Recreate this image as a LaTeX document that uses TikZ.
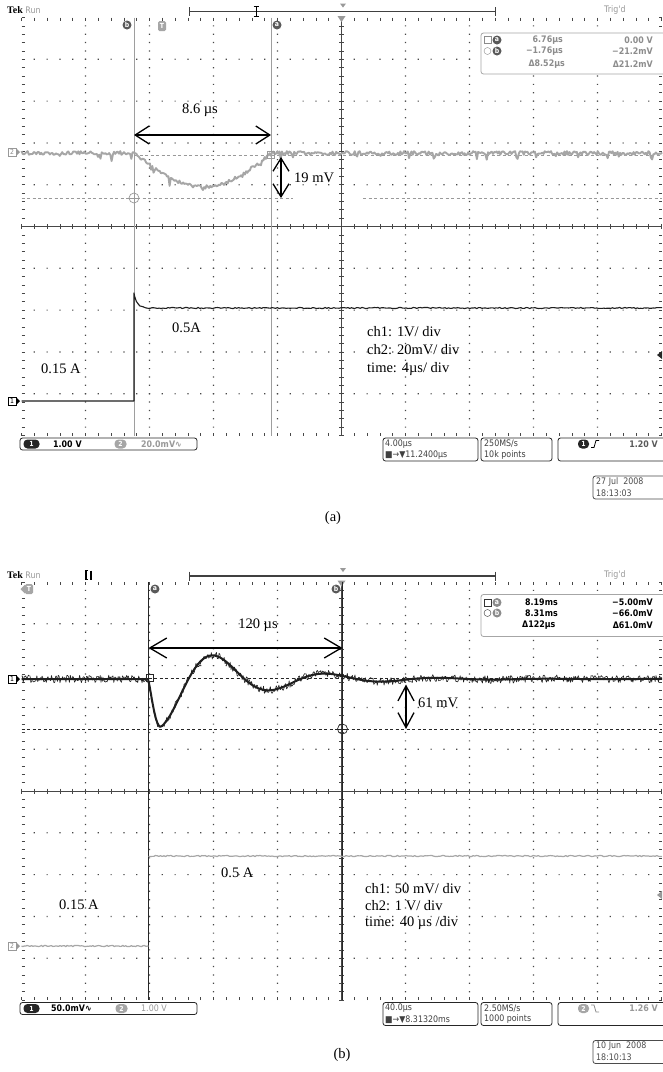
\documentclass[tikz,border=0pt]{standalone}
\usepackage{fontspec}
\setmainfont{Liberation Serif}
\newfontfamily\tekfont[FakeStretch=0.88]{DejaVu Sans}
\usetikzlibrary{arrows.meta,positioning}

\tikzset{
	griddot/.style={fill=black!72},
	gridtick/.style={draw=black!72, line width=0.6pt},
	cursgrey/.style={draw=black!38, line width=0.9pt},
	cursblack/.style={draw=black!85, line width=0.9pt},
	curslevel/.style={dash pattern=on 3pt off 2.5pt, line width=0.8pt},
	trgrey/.style={draw=black!35, line width=1.9pt, line join=round},
	trblack/.style={draw=black!88, line width=1.1pt, line join=round},
	dimarrow/.style={draw=black, line width=1.3pt, {Straight Barb[length=14pt,width=18pt]}-{Straight Barb[length=14pt,width=18pt]}},
	lbl/.style={font=\fontsize{14.5}{18}\selectfont, inner sep=0pt},
	ui/.style={font=\tekfont\fontsize{9}{11}\selectfont, inner sep=0pt},
	uib/.style={font=\tekfont\bfseries\fontsize{9}{11}\selectfont, inner sep=0pt},
	uibox/.style={draw=black!85, line width=0.8pt, rounded corners=2.5pt, fill=white},
	curslab/.style={circle, fill=black!65, text=white, inner sep=0pt, minimum size=9pt, font=\tekfont\bfseries\fontsize{7}{7}\selectfont},
	pill/.style={rounded corners=4pt, fill=black!85, text=white, inner sep=0pt, minimum width=16pt, minimum height=9pt, font=\tekfont\bfseries\fontsize{7}{7}\selectfont},
	chmark/.style={draw, inner sep=0.6pt, minimum size=8pt, font=\tekfont\fontsize{7}{7}\selectfont},
}

% graticule of one screen
\newcommand{\tekgrid}{%
	\fill[griddot] foreach \i in {1,2,3,4,6,7,8,9} {foreach \j in {1,...,49} {({21.5+64*\i-0.6},{17.5+8.36*\j-0.6}) rectangle ++(1.2,1.2)}};
	\fill[griddot] foreach \k in {1,2,3,4,6,7,8,9} {foreach \m in {1,...,49} {({21.5+12.8*\m-0.6},{17.5+41.8*\k-0.6}) rectangle ++(1.2,1.2)}};
	\draw[gridtick] foreach \j in {0,...,50} {(21.5,{17.5+8.36*\j}) -- ++(3,0) (339,{17.5+8.36*\j}) -- ++(5,0) (661.5,{17.5+8.36*\j}) -- ++(-3,0)};
	\draw[gridtick] foreach \m in {0,...,50} {({21.5+12.8*\m},17.5) -- ++(0,3) ({21.5+12.8*\m},224) -- ++(0,5) ({21.5+12.8*\m},435.5) -- ++(0,-3)};
	\draw[gridtick, line width=0.5pt] (21.5,226.5) -- (661.5,226.5) (341.5,17.5) -- (341.5,435.5);
}

% top line of one screen
\newcommand{\tektop}{%
	\node[font=\bfseries\fontsize{10}{10}\selectfont, inner sep=0pt, anchor=west] (tek) at (7,10.5) {Tek};
	\node[ui, text=black!40, anchor=west] (run) at ([xshift=2pt]tek.east) {Run};
	\node[ui, text=black!40, anchor=west] (trigd) at (604,10.5) {Trig'd};
	\draw[draw=black!75, line width=1.4pt] (189,11.5) -- (495,11.5);
	\draw[draw=black!75, line width=0.8pt] (189,7) -- (189,16) (495,7) -- (495,16);
	\fill[black!40] (340,3.5) -- (346,3.5) -- (343,7.5) -- cycle;
	\fill[black!40] (337.5,16) -- (345.5,16) -- (341.5,22) -- cycle;
}

\begin{document}
\begin{tikzpicture}[x=1pt, y=-1pt,
	declare function={
		dipa(\x)=(\x>134)*(\x<272)*34*sin(1.3043*(\x-134));
		osc(\x)=(\x>148.5)*(\x<=160.5)*48*sin(7.5*(\x-148.5))+(\x>160.5)*48*exp(-(\x-160.5)/76)*cos(3.2143*(\x-160.5));
	}]
	\pgfmathsetseed{1234}
	\useasboundingbox[fill=white] (0,0) rectangle (662,1072);

	% ---------- (a)
	\tekgrid
	\tektop
	\draw[line width=0.9pt] (256,6.5) -- (256,16.5) (253.5,6.5) -- (258.5,6.5) (253.5,16.5) -- (258.5,16.5);
	\draw[cursgrey] (134,17.5) -- (134,435.5) (271,17.5) -- (271,435.5);
	\node[curslab] (cbl) at (127,25) {b};
	\node[curslab] (cal) at (277,25) {a};
	\node[curslab, rectangle, rounded corners=1.5pt, fill=black!35, minimum width=8pt, minimum height=10pt] (trg) at (162,26) {T};

	% readout
	\draw[uibox, draw=black!35] (481,33) rectangle (672,74);
	\node[draw=black!45, minimum size=7pt, inner sep=0pt] (sqa) at (487.5,40) {};
	\node[curslab] (ra) at (497,40) {a};
	\node[uib, text=black!45, anchor=east] (ra1) at (563,40) {6.76µs};
	\node[uib, text=black!45, anchor=east] (ra2) at (653,40) {0.00 V};
	\node[circle, draw=black!45, minimum size=7pt, inner sep=0pt] (cia) at (487.5,51) {};
	\node[curslab] (rb) at (497,51) {b};
	\node[uib, text=black!45, anchor=east] (rb1) at (563,51) {−1.76µs};
	\node[uib, text=black!45, anchor=east] (rb2) at (653,51) {−21.2mV};
	\node[uib, text=black!45, anchor=east] (rd1) at (565,64) {Δ8.52µs};
	\node[uib, text=black!45, anchor=east] (rd2) at (653,64) {Δ21.2mV};

	% cursor levels
	\draw[curslevel, draw=black!40] (134,155) -- (662,155);
	\draw[curslevel, draw=black!40] (21.5,198) -- (293,198) (363,198) -- (662,198);

	% traces
	\draw[trgrey] plot[domain=21.5:662, samples=520] (\x,{153+dipa(\x)+1.9*rand+7*rnd*(rnd>0.9)});
	\draw[trblack] (21.5,401) -- (134,401) -- (134,293) -- plot[domain=134.5:662, samples=300] (\x,{308-15*exp(-min((\x-134)/3,30))+0.6*rand});
	\node[draw=black!40, line width=0.7pt, minimum size=7pt, inner sep=0pt] (sqma) at (271,155) {};
	\node[circle, draw=black!40, line width=0.7pt, minimum size=10pt, inner sep=0pt] (cimb) at (134,198) {};
	\draw[draw=black!40, line width=0.7pt] (cimb.north) -- (cimb.south) (cimb.west) -- (cimb.east);
	\node[chmark, draw=black!40, text=black!45] (m2) at (12,152) {2};
	\fill[black!40] (16,148) -- (20,152) -- (16,156) -- cycle;
	\node[chmark] (m1) at (12,401) {1};
	\fill[black] (16,397) -- (20,401) -- (16,405) -- cycle;
	\fill[black!85] (662,351) -- (657,355) -- (662,359) -- cycle;

	% dimensions
	\coordinate (dtl) at (134,135);
	\coordinate (dtr) at (271,135);
	\draw[dimarrow] (dtl) -- (dtr);
	\node[lbl] (dt) at (200,110) {8.6 µs};
	\coordinate (dvt) at (281,157);
	\coordinate (dvb) at (281,198);
	\draw[dimarrow, {Straight Barb[length=13pt,width=16pt]}-{Straight Barb[length=13pt,width=16pt]}] (dvt) -- (dvb);
	\node[lbl, anchor=west] (dv) at (294,178) {19 mV};
	\node[lbl, anchor=west] (ihi) at (172,328) {0.5A};
	\node[lbl, anchor=west] (ilo) at (41,369) {0.15 A};
	\node[lbl, anchor=west, align=left] (set) at (367,351) {ch1: 1V/ div\\ch2: 20mV/ div\\time: 4µs/ div};

	% status line
	\draw[uibox] (20,438) rectangle (197,450);
	\node[pill] (p1) at (31.5,444) {1};
	\node[uib, anchor=west] (v1) at (53,444) {1.00 V};
	\node[pill, fill=black!35, minimum width=12pt] (p2) at (120.5,444) {2};
	\node[uib, text=black!40, anchor=west] (v2) at (141,444) {20.0mV∿};
	\draw[uibox] (383,438) rectangle (478,461);
	\node[ui, text=black!75, anchor=west] (hs) at (385,444) {4.00µs};
	\node[ui, text=black!75, anchor=west] (hd) at (385,455) {■→▼11.2400µs};
	\draw[uibox] (481,438) rectangle (552,461);
	\node[ui, text=black!75, anchor=west] (sr) at (484,444) {250MS/s};
	\node[ui, text=black!75, anchor=west] (rl) at (484,455) {10k points};
	\draw[uibox] (558,438) rectangle (672,461);
	\node[pill, minimum width=11pt] (p3) at (583.5,444) {1};
	\draw[line width=0.8pt] (591,447.5) -- (594,447.5) -- (596,440.5) -- (599,440.5);
	\node[uib, text=black!65, anchor=east] (tl) at (658,444) {1.20 V};
	\draw[uibox, draw=black!70] (593,476) rectangle (672,499);
	\node[ui, text=black!70, anchor=west] (dat) at (596,482) {27 Jul\ \ 2008};
	\node[ui, text=black!70, anchor=west] (tim) at (596,493) {18:13:03};

	% ---------- (b)
	\begin{scope}[shift={(0,564.5)}]
	\tekgrid
	\tektop
	\draw[line width=1.2pt] (88,6) -- (86,6) -- (86,15) -- (88,15) (91,6) -- (91,15);
	\draw[cursblack] (148.5,17.5) -- (148.5,435.5) (342.5,17.5) -- (342.5,435.5);
	\node[curslab] (calb) at (155,24.5) {a};
	\node[curslab] (cblb) at (336,24.5) {b};
	\node[curslab, rectangle, rounded corners=1.5pt, fill=black!35, minimum width=8pt, minimum height=10pt] (trgb) at (29,24.5) {T};
	\fill[black!35] (20.5,24.5) -- (25,20) -- (25,29) -- cycle;

	% readout
	\draw[uibox, draw=black!35] (481,30) rectangle (672,72);
	\node[draw=black!80, minimum size=7pt, inner sep=0pt] (sqab) at (487.5,38) {};
	\node[curslab, fill=black!45] (rab) at (497,38) {a};
	\node[uib, anchor=west] (ra1b) at (525,38) {8.19ms};
	\node[uib, anchor=east] (ra2b) at (653,38) {−5.00mV};
	\node[circle, draw=black!80, minimum size=7pt, inner sep=0pt] (ciab) at (487.5,48.5) {};
	\node[curslab, fill=black!45] (rbb) at (497,48.5) {b};
	\node[uib, anchor=west] (rb1b) at (525,48.5) {8.31ms};
	\node[uib, anchor=east] (rb2b) at (653,48.5) {−66.0mV};
	\node[uib, anchor=west] (rd1b) at (522,60.5) {Δ122µs};
	\node[uib, anchor=east] (rd2b) at (653,60.5) {Δ61.0mV};

	% cursor levels
	\draw[curslevel, draw=black!85] (148.5,113.5) -- (662,113.5);
	\draw[curslevel, draw=black!85] (21.5,164.5) -- (662,164.5);

	% traces
	\draw[trgrey, line width=1.2pt] plot[domain=21.5:148.5, samples=90] (\x,{381.5+0.6*rand});
	\draw[trgrey, line width=1.2pt] plot[domain=148.5:662, samples=300] (\x,{291.5+0.6*rand});
	\draw[trblack, line width=2pt] plot[domain=21.5:662, samples=330] (\x,{114.5+osc(\x)});
	\draw[trblack, line width=0.6pt] plot[domain=21.5:662, samples=750] (\x,{114.5+osc(\x)+3.8*rand});
	\node[draw=black!85, line width=0.7pt, minimum size=7pt, inner sep=0pt] (sqmab) at (149.5,113.5) {};
	\node[circle, draw=black!85, line width=0.7pt, minimum size=10pt, inner sep=0pt] (cimbb) at (342.5,164.5) {};
	\draw[draw=black!85, line width=0.7pt] (cimbb.west) -- (cimbb.east);
	\node[chmark] (m1b) at (12,114.5) {1};
	\fill[black] (16,110.5) -- (20,114.5) -- (16,118.5) -- cycle;
	\node[chmark, draw=black!40, text=black!45] (m2b) at (12,381.5) {2};
	\fill[black!40] (16,377.5) -- (20,381.5) -- (16,385.5) -- cycle;
	\fill[black!40] (662,326.5) -- (657,330.5) -- (662,334.5) -- cycle;

	% dimensions
	\coordinate (dtlb) at (148.5,83.5);
	\coordinate (dtrb) at (342.5,83.5);
	\draw[dimarrow, {Straight Barb[length=17pt,width=20pt]}-{Straight Barb[length=17pt,width=20pt]}] (dtlb) -- (dtrb);
	\node[lbl] (dtb) at (258,60.5) {120 µs};
	\coordinate (dvtb) at (406,120);
	\coordinate (dvbb) at (406,164.5);
	\draw[dimarrow, {Straight Barb[length=15pt,width=16pt]}-{Straight Barb[length=15pt,width=16pt]}] (dvtb) -- (dvbb);
	\node[lbl, anchor=west] (dvb) at (418,138.5) {61 mV};
	\node[lbl, anchor=west] (ihib) at (221,308.5) {0.5 A};
	\node[lbl, anchor=west] (ilob) at (59,340.5) {0.15 A};
	\node[lbl, anchor=west, align=left, font=\fontsize{14.5}{16.5}\selectfont] (setb) at (365,342) {ch1: 50 mV/ div\\ch2: 1 V/ div\\time: 40 µs /div};

	% status line
	\draw[uibox] (20,438) rectangle (197,450);
	\node[pill] (p1b) at (31.5,444) {1};
	\node[uib, anchor=west] (v1b) at (51,444) {50.0mV∿};
	\node[pill, fill=black!35, minimum width=12pt] (p2b) at (121.5,444) {2};
	\node[ui, text=black!40, anchor=west] (v2b) at (141,444) {1.00 V};
	\draw[uibox] (383,438) rectangle (478,461);
	\node[ui, text=black!75, anchor=west] (hsb) at (385,444) {40.0µs};
	\node[ui, text=black!75, anchor=west] (hdb) at (385,455) {■→▼8.31320ms};
	\draw[uibox] (481,438) rectangle (552,461);
	\node[ui, text=black!75, anchor=west] (srb) at (484,444) {2.50MS/s};
	\node[ui, text=black!75, anchor=west] (rlb) at (484,455) {1000 points};
	\draw[uibox] (558,438) rectangle (672,461);
	\node[pill, fill=black!35, minimum width=11pt] (p3b) at (583.5,444) {2};
	\draw[line width=0.8pt, draw=black!45] (591,440.5) -- (594,440.5) -- (596,447.5) -- (599,447.5);
	\node[uib, text=black!40, anchor=east] (tlb) at (658,444) {1.26 V};
	\draw[uibox, draw=black!70] (593,476) rectangle (672,499);
	\node[ui, text=black!70, anchor=west] (datb) at (596,482) {10 Jun\ \ 2008};
	\node[ui, text=black!70, anchor=west] (timb) at (596,493) {18:10:13};
	\end{scope}

	% captions
	\node[lbl] (capa) at (333,518) {(a)};
	\node[lbl] (capb) at (342,1055) {(b)};
\end{tikzpicture}
\end{document}
